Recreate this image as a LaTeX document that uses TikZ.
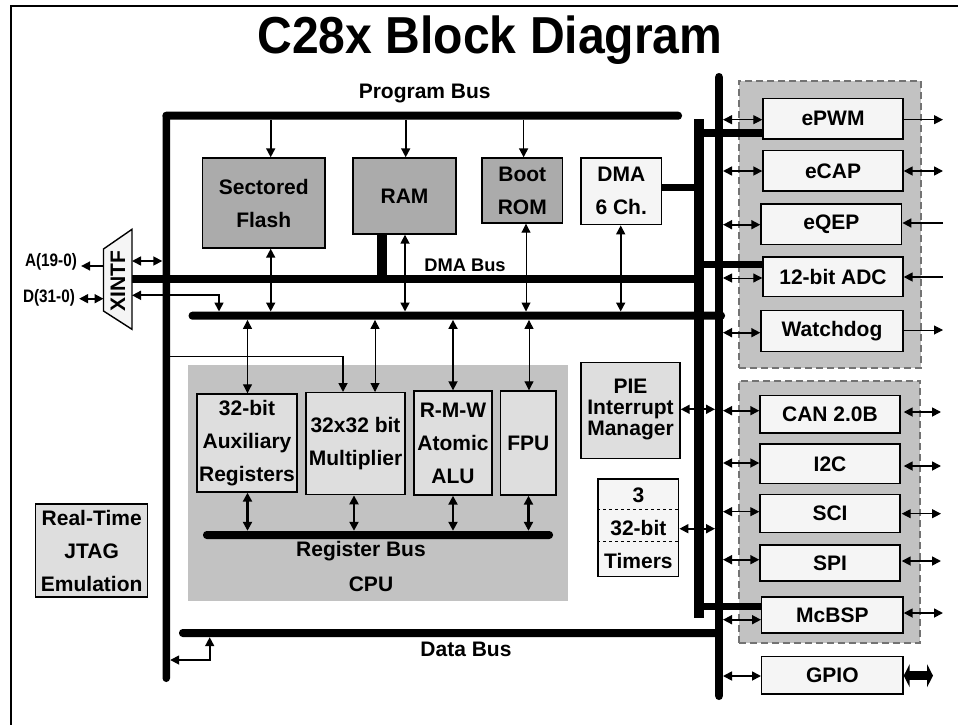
\documentclass[tikz,border=0pt]{standalone}
\usepackage{fontspec}
\setmainfont{Liberation Sans}
\newfontfamily\nrwfont[FakeStretch=0.85]{Liberation Sans}
\newfontfamily\ttlfont[FakeStretch=0.925]{Liberation Sans}
\usetikzlibrary{arrows.meta,calc}
\newcommand{\blk}[7]{%
  \pgfmathsetmacro{\bw}{#5-#3}\pgfmathsetmacro{\bh}{#6-#4}%
  \pgfmathsetmacro{\bx}{(#3+#5)/2}\pgfmathsetmacro{\by}{(#4+#6)/2}%
  \node[#2,minimum width=\bw pt,minimum height=\bh pt] (#1) at (\bx,\by) {#7};}
\newcommand{\hc}[4]{\coordinate (gg) at (0,#4);\draw[#1] (#2 |- gg) -- (#3 |- gg);}
\newcommand{\vc}[4]{\coordinate (gg) at (#4,0);\draw[#1] (gg |- #2) -- (gg |- #3);}
\tikzset{
  txt/.style={font=\fontsize{21}{33}\selectfont\bfseries,align=center,inner sep=0pt,text=black},
  blockbox/.style={txt,draw=black,line width=1.4pt},
  memfill/.style={blockbox,fill=black!33},
  lightfill/.style={blockbox,fill=black!4},
  midfill/.style={blockbox,fill=black!13},
  groupbox/.style={draw=black!55,dash pattern=on 7pt off 4pt,line width=2.4pt,fill=black!24,inner sep=0pt},
  cpubox/.style={fill=black!24,inner sep=0pt},
  busbar/.style={fill=black,rounded corners=3.7pt,inner sep=0pt},
  sqbar/.style={fill=black,inner sep=0pt},
  onetip/.style={-{Triangle[length=9pt,width=9pt]}},
  twotip/.style={{Triangle[length=9pt,width=9pt]}-{Triangle[length=9pt,width=9pt]}},
  lnA/.style={line width=1pt},
  lnB/.style={line width=1.7pt},
  lnC/.style={line width=2.2pt},
  extlbl/.style={font=\fontsize{18}{18}\nrwfont\bfseries,inner xsep=4pt,inner ysep=0pt},
}
\begin{document}
\begin{tikzpicture}[x=1pt,y=-1pt]
\useasboundingbox (0,0) rectangle (958,725);
\fill[white] (0,0) rectangle (958,725);
% frame
\coordinate (fTL) at (10.5,6);
\coordinate (fTR) at (958,6);
\coordinate (fBL) at (10.5,725);
\draw[line width=2pt] (fBL) -- (fTL) -- (fTR);
% title
\node[anchor=base,inner sep=0pt,font=\fontsize{52}{52}\ttlfont\bfseries] (title) at (490,54) {C28x Block Diagram};
% group backgrounds
\blk{cpu}{cpubox}{188}{365}{568}{600.7}{}
\blk{grpA}{groupbox}{738.7}{81}{921}{368}{}
\blk{grpB}{groupbox}{738.7}{380.7}{920}{643}{}
% buses
\blk{lvbus}{busbar}{162.5}{112}{170}{682}{}
\blk{progbus}{busbar}{162.5}{111.7}{682}{119.7}{}
\blk{dmabus}{sqbar}{132}{274.7}{695}{282.7}{}
\blk{membus}{busbar}{188.6}{311.7}{725}{319.7}{}
\blk{regbus}{busbar}{203}{531}{553}{539}{}
\blk{databus}{busbar}{179}{629}{719}{637}{}
\blk{rvbus}{busbar}{715.2}{73}{722.8}{700}{}
\blk{pvbus}{sqbar}{694.2}{119}{703.8}{617.7}{}
% memory
\blk{flash}{memfill}{202.5}{158}{325}{248}{Sectored\\Flash}
\blk{ram}{memfill}{353}{158}{456}{234}{RAM}
\blk{boot}{memfill}{482}{158}{562.5}{223}{Boot\\ROM}
\blk{dma}{lightfill}{581}{158}{661.5}{224.7}{DMA\\6 Ch.}
% CPU
\blk{aux}{midfill}{197}{394}{297}{492}{32-bit\\Auxiliary\\Registers}
\blk{mult}{midfill}{306}{392.7}{405}{494.7}{32x32 bit\\Multiplier}
\blk{rmw}{midfill}{414}{391}{492}{495}{R-M-W\\Atomic\\ALU}
\blk{fpu}{midfill}{500.7}{391}{556}{495}{FPU}
\node[txt] (reglbl) at (361,551) {Register Bus};
\node[txt] (cpulbl) at (371,584) {CPU};
% PIE, timers, JTAG
\blk{pie}{midfill,font=\fontsize{21}{21}\selectfont\bfseries}{581}{362.7}{680}{458.3}{\\[-8pt]PIE\\Interrupt\\Manager}
\blk{timers}{lightfill}{598}{479}{678.7}{576.7}{3\\32-bit\\Timers}
\coordinate (dA) at (0,509.3);
\coordinate (dB) at (0,541.3);
\draw[dashed,line width=1.2pt] (timers.west |- dA) -- (timers.east |- dA);
\draw[dashed,line width=1.2pt] (timers.west |- dB) -- (timers.east |- dB);
\blk{jtag}{midfill}{35.7}{504}{147.7}{597}{Real-Time\\JTAG\\Emulation}
% peripherals A
\blk{epwm}{lightfill}{763}{98.7}{903}{139}{ePWM}
\blk{ecap}{lightfill}{763}{150.7}{903}{191}{eCAP}
\blk{eqep}{lightfill}{761}{204}{901.7}{244.7}{eQEP}
\blk{adc}{lightfill}{763}{257}{903}{296.7}{12-bit ADC}
\blk{wdog}{lightfill}{761}{310.7}{903}{351.7}{Watchdog}
% peripherals B
\blk{can}{lightfill}{760}{395.7}{900}{433}{CAN 2.0B}
\blk{iic}{lightfill}{760}{444}{900}{483.7}{I2C}
\blk{sci}{lightfill}{760}{494.7}{900}{532.7}{SCI}
\blk{spi}{lightfill}{760}{545}{900}{581}{SPI}
\blk{mcbsp}{lightfill}{761.7}{597}{903}{633}{McBSP}
\blk{gpio}{lightfill}{761.7}{656.7}{903}{694}{GPIO}
% thick links
\coordinate (gg) at (382,0);
\draw[line width=10pt] (gg |- ram.south) -- (gg |- dmabus.north);
\hc{line width=7pt}{dma.east}{pvbus.east}{187}
\hc{line width=8pt}{pvbus.east}{epwm.west}{132.7}
\hc{line width=7pt}{pvbus.east}{adc.west}{264.7}
\hc{line width=7pt}{pvbus.east}{mcbsp.west}{606.7}
% XINTF
\coordinate (xTL) at (103.5,249);
\coordinate (xBL) at (103.5,311);
\coordinate (xTR) at (132,229.3);
\coordinate (xBR) at (132,329.3);
\draw[line width=1.4pt,fill=black!4] (xTL) -- (xTR) -- (xBR) -- (xBL) -- cycle;
\node[txt,rotate=90] (xintf) at (118,281) {XINTF};
\node[extlbl] (aext) at (51,262) {A(19-0)};
\node[extlbl] (dext) at (49,298) {D(31-0)};
\hc{onetip,lnB}{xTL}{aext.east}{266}
\hc{twotip,lnB}{dext.east}{xTL}{298.7}
\hc{twotip,lnB}{xTR}{lvbus.west}{261}
\coordinate (xgA) at (0,295.3);
\coordinate (xgB) at (219,0);
\draw[twotip,lnB] (xTR |- xgA) -| (xgB |- membus.north);
% bus labels
\node[txt] (proglbl) at (424.7,94) {Program Bus};
\node[txt,font=\fontsize{18.3}{18.3}\selectfont\bfseries] (dmalbl) at (465,265.7) {DMA Bus};
\node[txt] (datalbl) at (466,649) {Data Bus};
% program bus to memory
\vc{onetip,lnB}{progbus.south}{flash.north}{270.7}
\vc{onetip,lnB}{progbus.south}{ram.north}{405.7}
\vc{onetip,lnB}{progbus.south}{boot.north}{523.6}
% memory to memory bus
\vc{twotip,lnB}{flash.south}{membus.north}{270.7}
\vc{twotip,lnB}{ram.south}{membus.north}{405}
\vc{twotip,lnA}{boot.south}{membus.north}{526}
\vc{twotip,lnB}{dma.south}{membus.north}{620.7}
% memory bus to CPU
\vc{twotip,lnA}{membus.south}{aux.north}{247.5}
\vc{twotip,lnA}{membus.south}{mult.north}{375}
\vc{twotip,lnB}{membus.south}{rmw.north}{453}
\vc{twotip,lnA}{membus.south}{fpu.north}{529}
% program bus to multiplier
\coordinate (mgA) at (0,356);
\coordinate (mgB) at (343,0);
\draw[lnA] (lvbus.east |- mgA) -- (mgB |- mgA);
\draw[onetip,lnB] (mgB |- mgA) -- (mgB |- mult.north);
% CPU to register bus
\vc{twotip,lnC}{aux.south}{regbus.north}{247.5}
\vc{twotip,lnC}{mult.south}{regbus.north}{354}
\vc{twotip,lnC}{rmw.south}{regbus.north}{453}
\vc{twotip,lnC}{fpu.south}{regbus.north}{528.5}
% data bus to program bus
\coordinate (pgA) at (209.7,0);
\coordinate (pgB) at (0,660);
\draw[twotip,lnB] (pgA |- databus.south) |- (lvbus.east |- pgB);
% PIE, timers to vertical bus
\hc{twotip,lnB}{pie.east}{rvbus.west}{409.3}
\hc{twotip,lnB}{timers.east}{rvbus.west}{528.7}
% peripherals, bus side
\hc{twotip,lnA}{rvbus.east}{epwm.west}{119.7}
\hc{twotip,lnB}{rvbus.east}{ecap.west}{171}
\hc{twotip,lnB}{rvbus.east}{eqep.west}{224.7}
\hc{twotip,lnA}{rvbus.east}{adc.west}{278}
\hc{twotip,lnB}{rvbus.east}{wdog.west}{332.7}
\hc{twotip,lnB}{rvbus.east}{can.west}{410.7}
\hc{twotip,lnB}{rvbus.east}{iic.west}{463}
\hc{twotip,lnA}{rvbus.east}{sci.west}{511.7}
\hc{twotip,lnB}{rvbus.east}{spi.west}{559.7}
\hc{twotip,lnB}{rvbus.east}{mcbsp.west}{619.7}
\hc{twotip,lnB}{rvbus.east}{gpio.west}{676}
% peripherals, outside
\coordinate (oE) at (943,0);
\coordinate (oF) at (941,0);
\hc{onetip,lnA}{epwm.east}{oE}{119.7}
\hc{twotip,lnB}{ecap.east}{oE}{171}
\hc{onetip,lnB}{oE}{eqep.east}{223}
\hc{onetip,lnB}{oE}{adc.east}{277}
\hc{onetip,lnA}{wdog.east}{oE}{330}
\hc{twotip,lnB,shorten <=3pt}{can.east}{oF}{412}
\hc{twotip,lnB,shorten <=3pt}{iic.east}{oF}{466}
\hc{twotip,lnA,shorten <=1pt}{sci.east}{oF}{513.7}
\hc{twotip,lnB,shorten <=1pt}{spi.east}{oF}{561}
\hc{twotip,lnB}{mcbsp.east}{oE}{613}
\coordinate (oG) at (933,0);
\hc{line width=9pt,{Triangle[length=6pt,width=23pt]}-{Triangle[length=6pt,width=23pt]}}{gpio.east}{oG}{675.7}
\end{tikzpicture}
\end{document}
